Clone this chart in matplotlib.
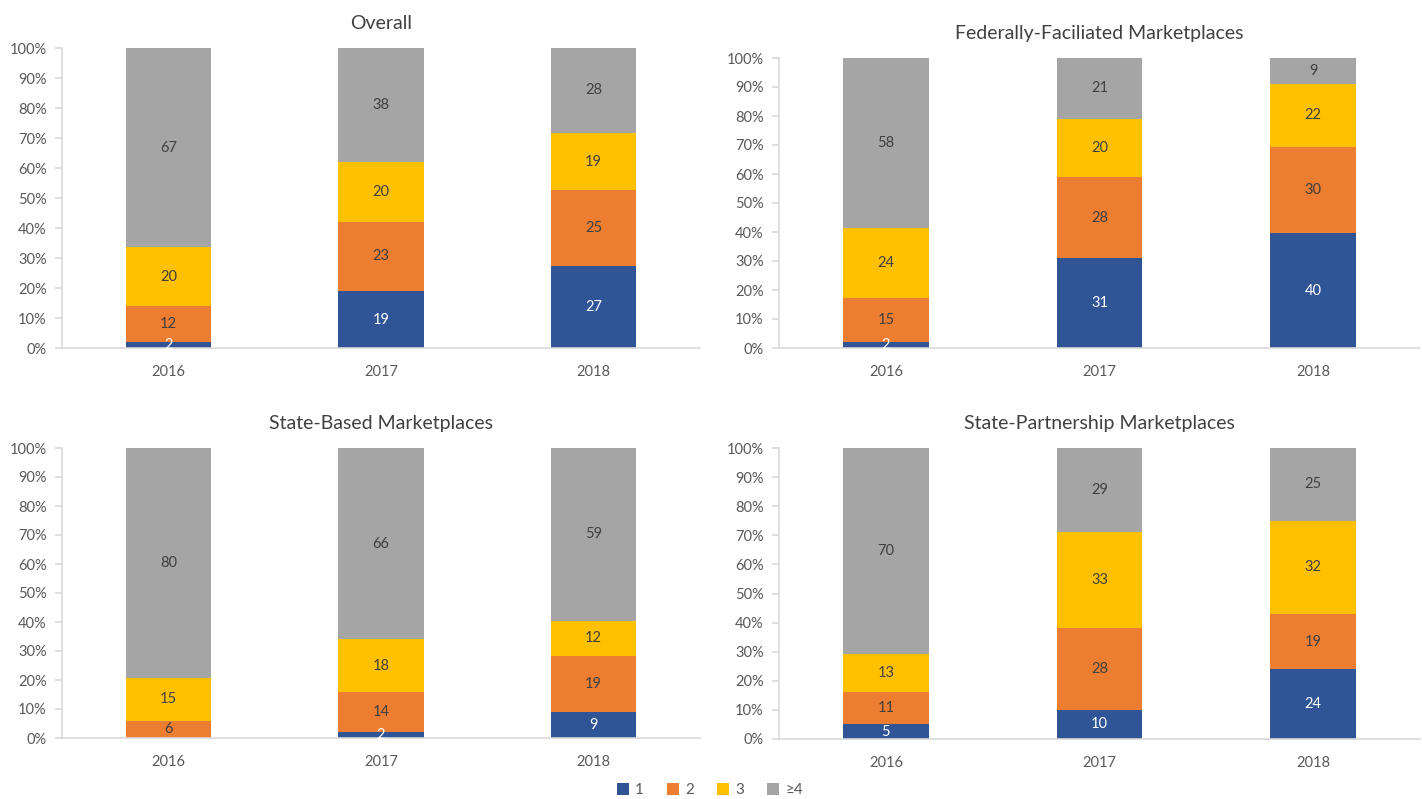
import matplotlib.pyplot as plt
import numpy as np

plt.rcParams['font.family'] = ['Lato', 'DejaVu Sans']

years = ['2016', '2017', '2018']
series_names = ['1', '2', '3', '≥4']
colors = ['#2F5597', '#ED7D31', '#FFC000', '#A5A5A5']
label_colors = ['white', '#404040', '#404040', '#404040']

overall = [[2, 19, 27], [12, 23, 25], [20, 20, 19], [67, 38, 28]]
federal = [[2, 31, 40], [15, 28, 30], [24, 20, 22], [58, 21, 9]]
state_based = [[0, 2, 9], [6, 14, 19], [15, 18, 12], [80, 66, 59]]
partnership = [[5, 10, 24], [11, 28, 19], [13, 33, 32], [70, 29, 25]]

W, H = 1422, 799
fig = plt.figure(figsize=(W / 100, H / 100), dpi=100)


def px_axes(x0, y0, x1, y1):
    return fig.add_axes([x0 / W, 1 - y1 / H, (x1 - x0) / W, (y1 - y0) / H])


def plot_panel(ax, data, title):
    data = np.array(data, dtype=float)
    pct = data / data.sum(axis=0) * 100
    x = np.arange(len(years))
    bottom = np.zeros(len(years))
    for i, name in enumerate(series_names):
        ax.bar(x, pct[i], 0.4, bottom=bottom, color=colors[i], label=name, zorder=2)
        for j in range(len(years)):
            # zero-sized segments have no room for a label
            if data[i][j] > 0:
                ax.text(x[j], bottom[j] + pct[i][j] / 2, '%d' % data[i][j],
                        ha='center', va='center', fontsize=10.5, color=label_colors[i], zorder=3)
        bottom += pct[i]
    ax.set_xlim(-0.5, 2.5)
    ax.set_ylim(0, 100)
    ax.set_yticks(np.arange(0, 101, 10))
    ax.set_yticklabels(['%d%%' % v for v in range(0, 101, 10)])
    ax.set_xticks(x)
    ax.set_xticklabels(years)
    for s in ['top', 'right']:
        ax.spines[s].set_visible(False)
    for s in ['left', 'bottom']:
        ax.spines[s].set_color('#D9D9D9')
        ax.spines[s].set_linewidth(1.2)
    ax.tick_params(axis='y', colors='#D9D9D9', labelcolor='#595959', labelsize=10.5, length=5, width=1.2, pad=6)
    ax.tick_params(axis='x', length=0, labelcolor='#595959', labelsize=10.5, pad=12)
    ax.set_title(title, fontsize=14, color='#404040', pad=14)


ax1 = px_axes(62, 48, 700, 348)
plot_panel(ax1, overall, 'Overall')
ax2 = px_axes(779, 58, 1420, 348)
plot_panel(ax2, federal, 'Federally-Faciliated Marketplaces')
ax3 = px_axes(62, 448, 700, 738)
plot_panel(ax3, state_based, 'State-Based Marketplaces')
ax4 = px_axes(779, 448, 1420, 739)
plot_panel(ax4, partnership, 'State-Partnership Marketplaces')

handles, labels = ax1.get_legend_handles_labels()
fig.legend(handles, labels, loc='center', bbox_to_anchor=(710 / W, 1 - 790 / H), ncol=4,
           frameon=False, fontsize=11, handlelength=0.8, handleheight=0.8,
           columnspacing=1.5, handletextpad=0.4, labelcolor='#595959')

fig.savefig('out.png', dpi=100)
